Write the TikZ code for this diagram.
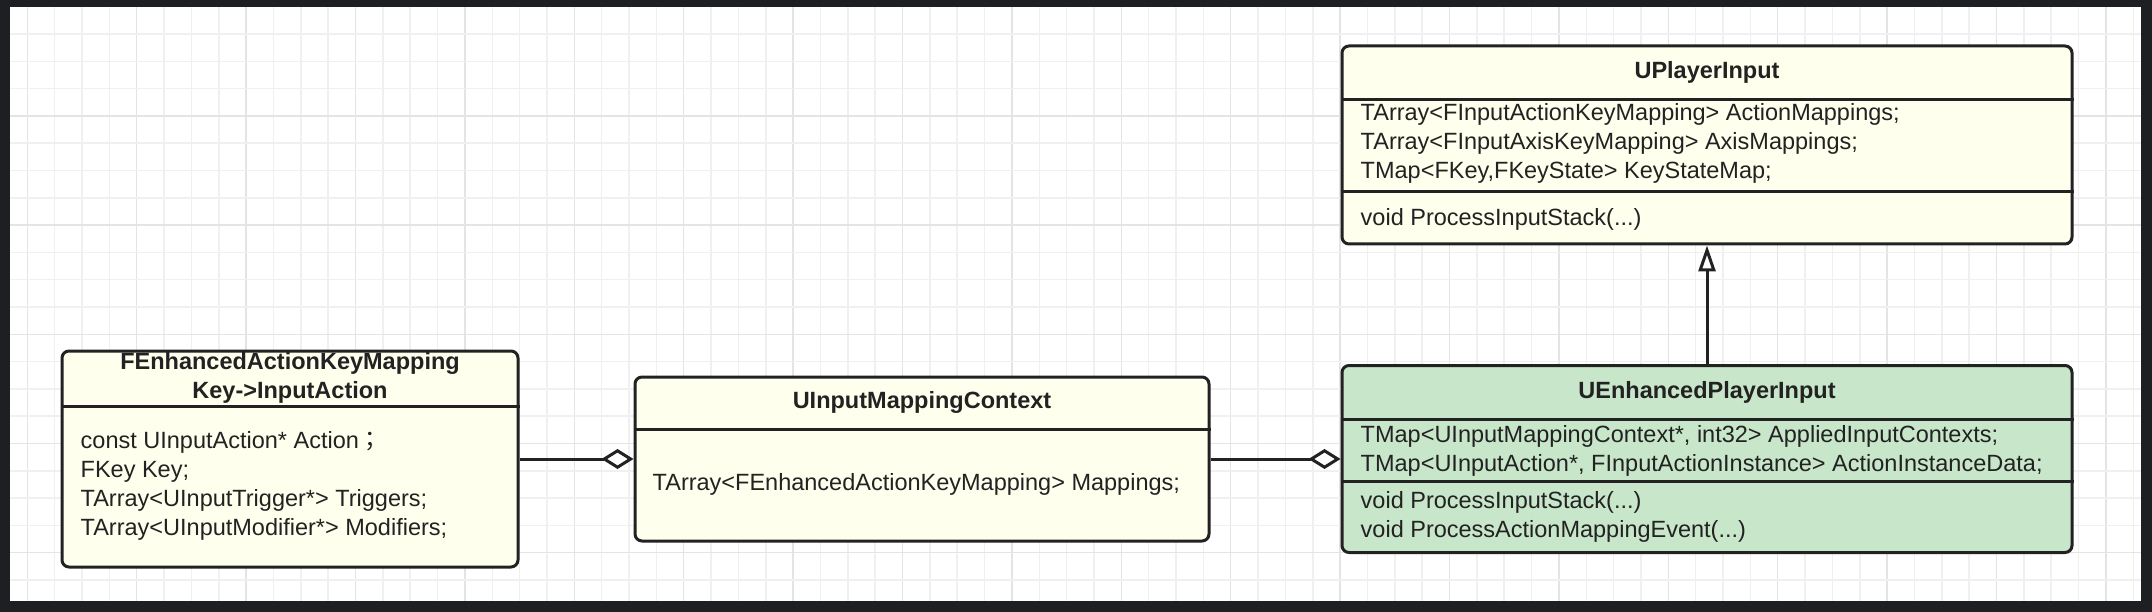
\documentclass[tikz,border=0pt]{standalone}
\usepackage{fontspec}
\setmainfont{Liberation Sans}
\newfontfamily\cjk{Noto Sans CJK TC}
\usetikzlibrary{calc,positioning,arrows.meta}
\definecolor{framedark}{RGB}{30,31,34}
\definecolor{gridminor}{RGB}{240,240,240}
\definecolor{gridmajor}{RGB}{228,228,228}
\definecolor{classfill}{RGB}{255,255,238}
\definecolor{subfill}{RGB}{200,230,201}
\definecolor{umlline}{RGB}{34,34,34}
\tikzset{
  classbox/.style={draw=umlline,line width=3pt,rounded corners=7pt,fill=classfill,inner sep=0pt},
  compline/.style={draw=umlline,line width=3pt},
  headtxt/.style={font=\bfseries\fontsize{23.5}{29}\selectfont,align=center,inner sep=0pt,text=umlline},
  bodytxt/.style={font=\fontsize{23.5}{29}\selectfont,align=left,anchor=west,inner sep=0pt,text=umlline},
  aggr/.style={draw=umlline,line width=3pt,-{Diamond[open,fill=white,length=32pt,width=20pt]}},
  inherit/.style={draw=umlline,line width=3pt,-{Triangle[open,fill=white,length=26pt,width=17pt]}}
}
\begin{document}
\begin{tikzpicture}[x=1pt,y=-1pt]
\useasboundingbox (0,0) rectangle (2152,612);
\fill[framedark] (0,0) rectangle (2152,612);
\fill[white] (10,7) rectangle (2141,601);
% grid
\begin{scope}
\clip (10,7) rectangle (2141,601);
\foreach \i in {0,...,77}{
  \pgfmathtruncatemacro\m{mod(\i,4)}
  \ifnum\m=0 \def\gc{gridmajor}\else\def\gc{gridminor}\fi
  \draw[\gc,line width=1.5pt] (27.3+\i*27.35,7) -- (27.3+\i*27.35,601);
}
\foreach \j in {0,...,20}{
  \pgfmathtruncatemacro\m{mod(\j,4)}
  \ifnum\m=3 \def\gc{gridmajor}\else\def\gc{gridminor}\fi
  \draw[\gc,line width=1.5pt] (10,34+\j*27.3) -- (2141,34+\j*27.3);
}
\end{scope}
% FEnhancedActionKeyMapping
\node[classbox,minimum width=456pt,minimum height=216pt] (fek) at (290,459) {};
\draw[compline] ([yshift=-57pt]fek.north west) -- ([yshift=-57pt]fek.north east);
\node[headtxt] (fekname) at ([yshift=-28.5pt]fek.north) {FEnhancedActionKeyMapping\\Key->InputAction};
\node[bodytxt] (fekattr) at ([xshift=20pt,yshift=-136pt]fek.north west)
  {const UInputAction* Action{\cjk ；}\\FKey Key;\\TArray<UInputTrigger*> Triggers;\\TArray<UInputModifier*> Modifiers;};
% UInputMappingContext
\node[classbox,minimum width=574pt,minimum height=164pt] (imc) at (922,459) {};
\draw[compline] ([yshift=-54pt]imc.north west) -- ([yshift=-54pt]imc.north east);
\node[headtxt] (imcname) at ([yshift=-27pt]imc.north) {UInputMappingContext};
\node[bodytxt] (imcattr) at ([xshift=19pt,yshift=-109pt]imc.north west)
  {TArray<FEnhancedActionKeyMapping> Mappings;};
% UEnhancedPlayerInput
\node[classbox,fill=subfill,minimum width=730pt,minimum height=187pt] (epi) at (1707,459) {};
\draw[compline] ([yshift=-55.5pt]epi.north west) -- ([yshift=-55.5pt]epi.north east);
\draw[compline] ([yshift=-117.5pt]epi.north west) -- ([yshift=-117.5pt]epi.north east);
\node[headtxt] (epiname) at ([yshift=-28pt]epi.north) {UEnhancedPlayerInput};
\node[bodytxt] (epiattr) at ([xshift=20pt,yshift=-86.5pt]epi.north west)
  {TMap<UInputMappingContext*, int32> AppliedInputContexts;\\TMap<UInputAction*, FInputActionInstance> ActionInstanceData;};
\node[bodytxt] (epiops) at ([xshift=20pt,yshift=-153pt]epi.north west)
  {void ProcessInputStack(...)\\void ProcessActionMappingEvent(...)};
% UPlayerInput
\node[classbox,minimum width=730pt,minimum height=198pt] (upi) at (1707,145) {};
\draw[compline] ([yshift=-55pt]upi.north west) -- ([yshift=-55pt]upi.north east);
\draw[compline] ([yshift=-147pt]upi.north west) -- ([yshift=-147pt]upi.north east);
\node[headtxt] (upiname) at ([yshift=-27.5pt]upi.north) {UPlayerInput};
\node[bodytxt] (upiattr) at ([xshift=20pt,yshift=-99pt]upi.north west)
  {TArray<FInputActionKeyMapping> ActionMappings;\\TArray<FInputAxisKeyMapping> AxisMappings;\\TMap<FKey,FKeyState> KeyStateMap;};
\node[bodytxt] (upiops) at ([xshift=20pt,yshift=-175pt]upi.north west) {void ProcessInputStack(...)};
% relations
\draw[aggr] (fek.east) -- (imc.west);
\draw[aggr] (imc.east) -- (epi.west);
\draw[inherit] (epi.north) -- (upi.south);
\end{tikzpicture}
\end{document}
